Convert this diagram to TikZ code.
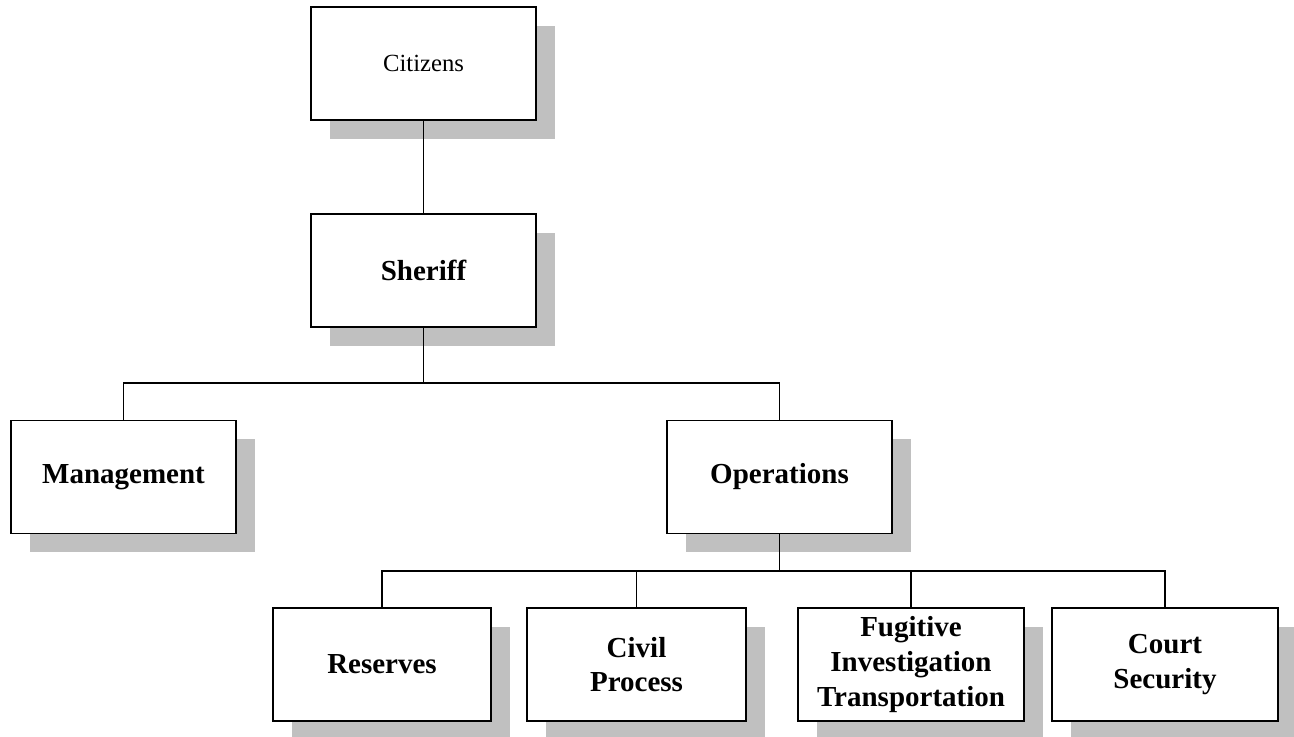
\documentclass[tikz,border=0pt]{standalone}
\usepackage{fontspec}
\setmainfont{Liberation Serif}
\usetikzlibrary{shadows}
\definecolor{shadowgray}{RGB}{192,192,192}
\begin{document}
\begin{tikzpicture}[x=0.75pt,y=-0.75pt,
  orgbox/.style={draw=black, line width=1.1pt, fill=white, inner sep=2pt,
    minimum height=84.75pt, align=center,
    drop shadow={shadow xshift=14pt, shadow yshift=-14pt, fill=shadowgray, opacity=1}},
  bigtxt/.style={font=\fontsize{21.75}{26}\selectfont\bfseries},
  smalltxt/.style={font=\fontsize{18.5}{22}\selectfont},
  conn/.style={draw=black, line width=0.9pt},
  thinconn/.style={draw=black, line width=0.6pt}]
\useasboundingbox (0,0) rectangle (1294,737);
\node[orgbox, smalltxt, minimum width=168.75pt] (cit) at (423.5,63.5) {Citizens};
\node[orgbox, bigtxt, minimum width=168.75pt] (sher) at (423.5,270.5) {Sheriff};
\node[orgbox, bigtxt, minimum width=168.75pt] (mgmt) at (123.5,477) {Management};
\node[orgbox, bigtxt, minimum width=168.75pt] (ops) at (779.5,477) {Operations};
\node[orgbox, bigtxt, minimum width=163.5pt] (res) at (382,664.5) {Reserves};
\node[orgbox, bigtxt, minimum width=164.25pt] (civ) at (636.5,664.5) {Civil\\Process};
\node[orgbox, bigtxt, minimum width=169.5pt] (fug) at (911,664.5) {Fugitive\\Investigation\\Transportation};
\node[orgbox, bigtxt, minimum width=169.5pt] (crt) at (1165,664.5) {Court\\Security};
\coordinate (b1) at (423.5,383);
\coordinate (b2) at (779.5,571);
\draw[thinconn] (cit.south) -- (sher.north);
\draw[conn] (sher.south) -- (b1);
\draw[conn] (mgmt.north) |- (b1) -| (ops.north);
\draw[conn] (ops.south) -- (b2);
\draw[conn] (res.north) |- (b2) -| (crt.north);
\draw[conn] (civ.north) -- (civ.north |- b2);
\draw[conn] (fug.north) -- (fug.north |- b2);
\end{tikzpicture}
\end{document}
